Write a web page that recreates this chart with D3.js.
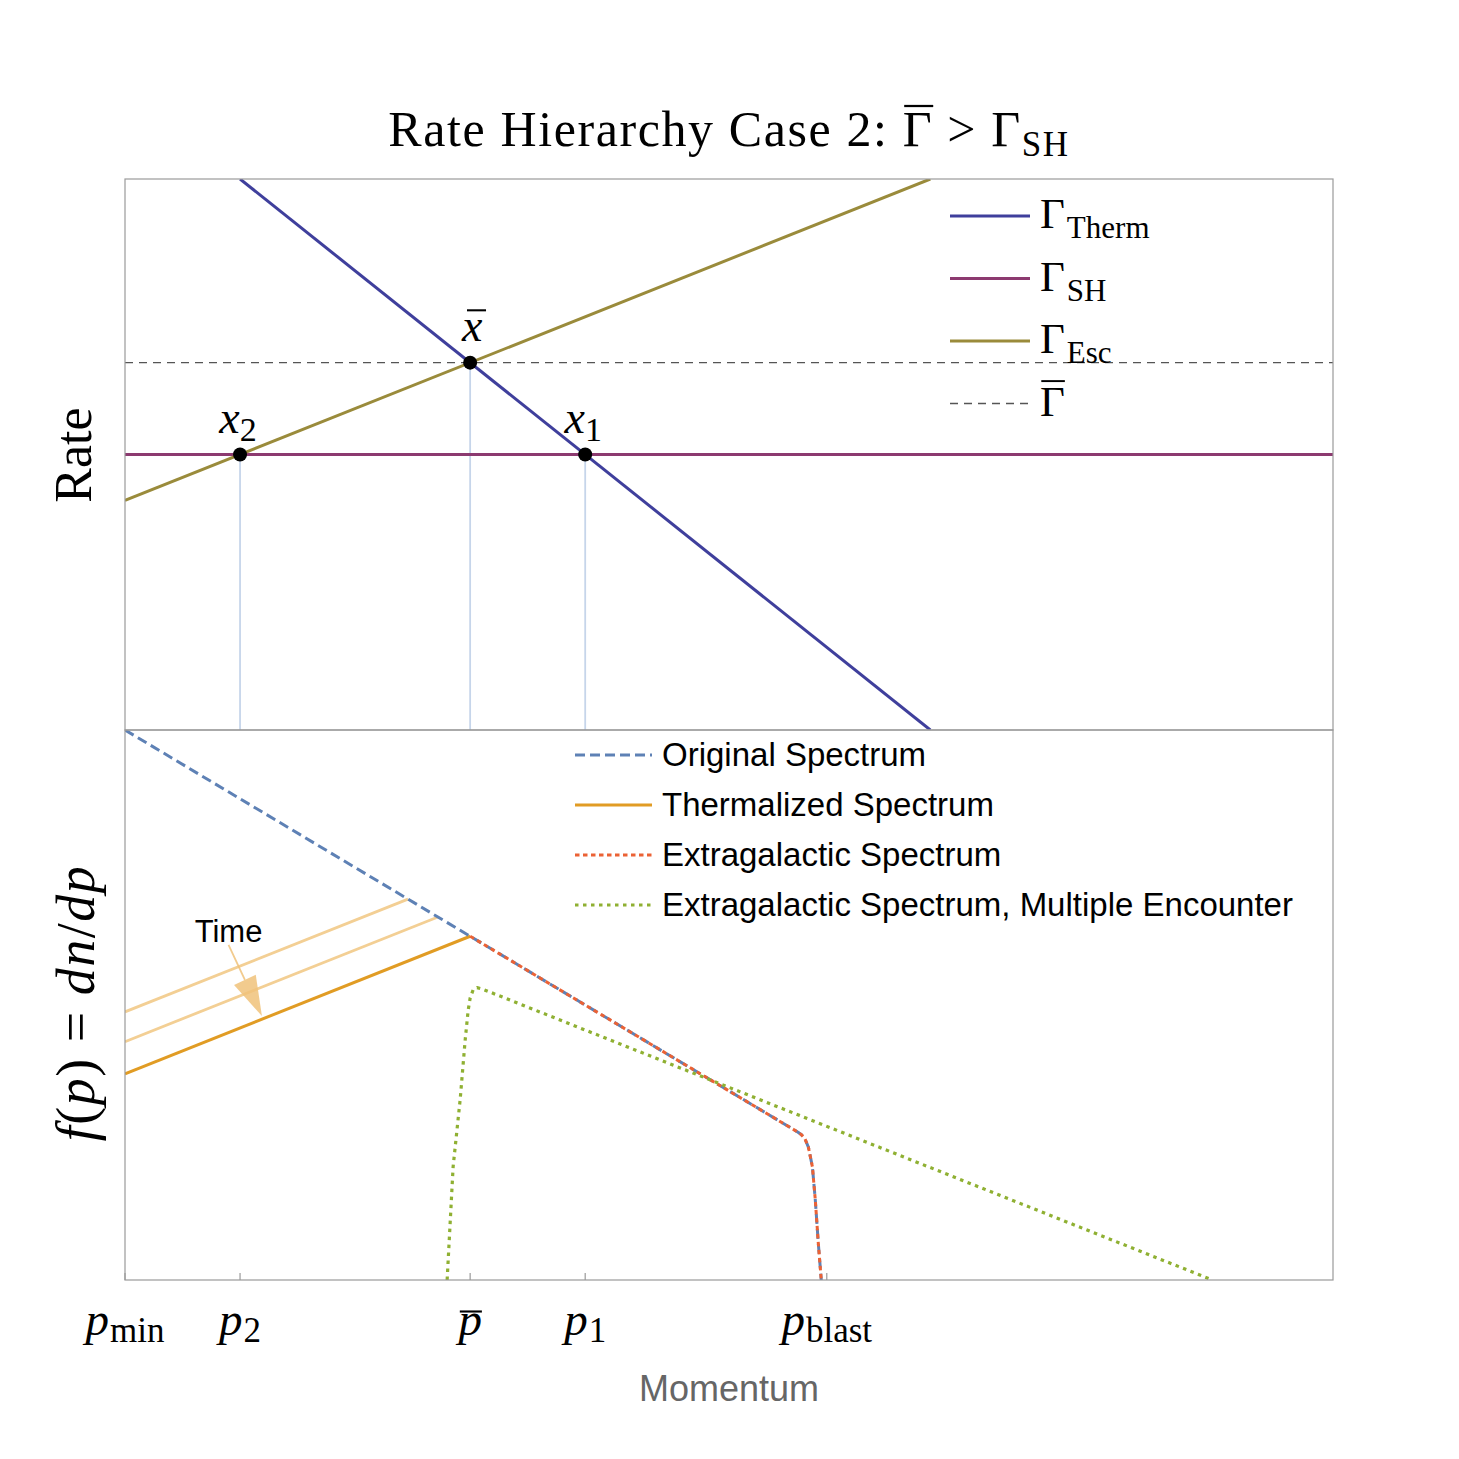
<!DOCTYPE html>
<html>
<head>
<meta charset="utf-8">
<title>Rate Hierarchy Case 2</title>
<script src="https://d3js.org/d3.v7.min.js"></script>
<style>
body { margin: 0; background: #fff; }
.serif { font-family: "Liberation Serif", "DejaVu Serif", serif; }
.sans { font-family: "Liberation Sans", Arial, sans-serif; }
</style>
</head>
<body>
<svg id="chart" width="1459" height="1459"></svg>
<script>
// ---- momentum axis (arbitrary units) ----
const tickPos   = [0, 1, 3, 4, 6.1];
const tickSubs  = ["min", "2", "", "1", "blast"];
const tickBars  = [false, false, true, false, false];

// ---- top panel: rates ----
const thermX = [1, 7],     thermY = [12, 0];
const shX    = [0, 10.5],  shY    = [6, 6];
const escX   = [0, 7],     escY   = [5, 12];
const gbarX  = [0, 10.5],  gbarY  = [8, 8];
const crossX = [1, 3, 4],  crossY = [6, 8, 6];
const crossSubs = ["2", "", "1"];
const crossBars = [false, true, false];

// ---- bottom panel: spectra ----
const origX = [0, 3, 5.85, 5.88, 5.91, 5.94, 5.975, 6.0, 6.026, 6.052];
const origY = [12, 7.5, 3.225, 3.17, 3.08, 2.9, 2.47, 1.75, 0.81, 0];
const thermSpecX = [0, 3],    thermSpecY = [4.5, 7.5];
const early1X = [0, 2.46],    early1Y = [5.85, 8.31];
const early2X = [0, 2.72],    early2Y = [5.2, 7.92];
const multiX = [2.8, 2.852, 2.913, 2.957, 2.983, 3.0, 3.026, 3.06, 3.104, 9.452];
const multiY = [0, 2.47, 3.93, 5.24, 5.89, 6.15, 6.33, 6.38, 6.35, 0];

const topLegend = [
  {sub: "Therm", color: "#3f3f9c", dash: null},
  {sub: "SH",    color: "#8c3a70", dash: null},
  {sub: "Esc",   color: "#9a8b3b", dash: null},
  {sub: "",      color: "#555",    dash: "8,6", bar: true}
];
const botLegend = [
  {label: "Original Spectrum", color: "#5e81b5", dash: "10,5"},
  {label: "Thermalized Spectrum", color: "#e19c24", dash: null},
  {label: "Extragalactic Spectrum", color: "#eb6235", dash: "4.5,3.5"},
  {label: "Extragalactic Spectrum, Multiple Encounter", color: "#8fb032", dash: "3.5,4.5"}
];

const svg = d3.select("#chart");
const left = 125, right = 1333, topY = 179, midY = 730, botY = 1280;

const x = d3.scaleLinear().domain([0, 10.5]).range([left, right]);
const yTop = d3.scaleLinear().domain([0, 12]).range([midY, topY]);
const yBot = d3.scaleLinear().domain([0, 12]).range([botY, midY]);

function zipPts(xs, ys) { return xs.map((v, i) => [v, ys[i]]); }

// draws an overline above character i of a text node
function overline(textSel, i, fontSize, lift, italic) {
  const node = textSel.node();
  const ext = node.getExtentOfChar(i);
  const base = +textSel.attr("y");
  const slant = italic ? fontSize * 0.08 : 0;
  svg.append("line")
    .attr("x1", ext.x + fontSize * 0.03 + slant)
    .attr("x2", ext.x + ext.width + slant)
    .attr("y1", base - lift * fontSize)
    .attr("y2", base - lift * fontSize)
    .attr("stroke", "#000")
    .attr("stroke-width", fontSize * 0.045);
}

// clip paths
const defs = svg.append("defs");
defs.append("clipPath").attr("id", "clipTop").append("rect")
  .attr("x", left).attr("y", topY).attr("width", right - left).attr("height", midY - topY);
defs.append("clipPath").attr("id", "clipBot").append("rect")
  .attr("x", left).attr("y", midY).attr("width", right - left).attr("height", botY - midY);

// ==================== Top panel ====================
const gTop = svg.append("g").attr("clip-path", "url(#clipTop)");
const lineTop = d3.line().x(d => x(d[0])).y(d => yTop(d[1]));

// drop lines from the crossings
gTop.selectAll(".drop")
  .data(zipPts(crossX, crossY))
  .enter().append("line")
  .attr("x1", d => x(d[0])).attr("x2", d => x(d[0]))
  .attr("y1", d => yTop(d[1])).attr("y2", yTop(0))
  .attr("stroke", "#c6d5ea").attr("stroke-width", 1.8);

gTop.append("path").attr("d", lineTop(zipPts(gbarX, gbarY)))
  .attr("fill", "none").attr("stroke", "#555").attr("stroke-width", 1.3).attr("stroke-dasharray", "8,6");
gTop.append("path").attr("d", lineTop(zipPts(shX, shY)))
  .attr("fill", "none").attr("stroke", topLegend[1].color).attr("stroke-width", 3);
gTop.append("path").attr("d", lineTop(zipPts(escX, escY)))
  .attr("fill", "none").attr("stroke", topLegend[2].color).attr("stroke-width", 3);
gTop.append("path").attr("d", lineTop(zipPts(thermX, thermY)))
  .attr("fill", "none").attr("stroke", topLegend[0].color).attr("stroke-width", 3);

svg.selectAll(".cross")
  .data(zipPts(crossX, crossY))
  .enter().append("circle")
  .attr("cx", d => x(d[0])).attr("cy", d => yTop(d[1]))
  .attr("r", 7).attr("fill", "#000");

// crossing labels
crossX.forEach((cx, i) => {
  const fs = 46;
  const t = svg.append("text").attr("class", "serif")
    .attr("x", x(cx) + (crossSubs[i] ? -2 : 2))
    .attr("y", yTop(crossY[i]) - 22)
    .attr("text-anchor", "middle")
    .attr("font-size", fs);
  t.append("tspan").attr("font-style", "italic").text("x");
  if (crossSubs[i]) t.append("tspan").attr("font-size", 34).attr("dy", 8).text(crossSubs[i]);
  if (crossBars[i]) overline(t, 0, fs, 0.66, true);
});

// top legend
topLegend.forEach((d, i) => {
  const yy = 216 + i * 62.5;
  svg.append("line").attr("x1", 950).attr("x2", 1030).attr("y1", yy).attr("y2", yy)
    .attr("stroke", d.color).attr("stroke-width", d.dash ? 1.3 : 3)
    .attr("stroke-dasharray", d.dash);
  const t = svg.append("text").attr("class", "serif")
    .attr("x", 1040).attr("y", yy + 12).attr("font-size", 43);
  t.append("tspan").text("\u0393");
  if (d.sub) t.append("tspan").attr("font-size", 31).attr("dy", 10).attr("dx", 2).text(d.sub);
  if (d.bar) overline(t, 0, 43, 0.8, false);
});

// ==================== Bottom panel ====================
const gBot = svg.append("g").attr("clip-path", "url(#clipBot)");
const lineBot = d3.line().x(d => x(d[0])).y(d => yBot(d[1]));

gBot.append("path").attr("d", lineBot(zipPts(early1X, early1Y)))
  .attr("fill", "none").attr("stroke", "#f3cf94").attr("stroke-width", 2.8);
gBot.append("path").attr("d", lineBot(zipPts(early2X, early2Y)))
  .attr("fill", "none").attr("stroke", "#f3cf94").attr("stroke-width", 2.8);
gBot.append("path").attr("d", lineBot(zipPts(thermSpecX, thermSpecY)))
  .attr("fill", "none").attr("stroke", botLegend[1].color).attr("stroke-width", 3);
gBot.append("path").attr("d", lineBot(zipPts(origX, origY)))
  .attr("fill", "none").attr("stroke", botLegend[0].color).attr("stroke-width", 3)
  .attr("stroke-linejoin", "round")
  .attr("stroke-dasharray", botLegend[0].dash);
gBot.append("path").attr("d", lineBot(zipPts(origX.slice(1), origY.slice(1))))
  .attr("fill", "none").attr("stroke", botLegend[2].color).attr("stroke-width", 3)
  .attr("stroke-linejoin", "round")
  .attr("stroke-dasharray", botLegend[2].dash);
gBot.append("path").attr("d", lineBot(zipPts(multiX, multiY)))
  .attr("fill", "none").attr("stroke", botLegend[3].color).attr("stroke-width", 3.2)
  .attr("stroke-linejoin", "round")
  .attr("stroke-dasharray", botLegend[3].dash);

// time arrow
const ax0 = x(0.9), ay0 = yBot(7.31), ax1 = x(1.19), ay1 = yBot(5.76);
const ang = Math.atan2(ay1 - ay0, ax1 - ax0);
const hl = 40, hw = 12;
const bx = ax1 - hl * Math.cos(ang), by = ay1 - hl * Math.sin(ang);
svg.append("line").attr("x1", ax0).attr("y1", ay0).attr("x2", bx).attr("y2", by)
  .attr("stroke", "#f0c27a").attr("stroke-width", 1.8).attr("opacity", 0.85);
svg.append("polygon")
  .attr("points", [[ax1, ay1],
    [bx + hw * Math.sin(ang), by - hw * Math.cos(ang)],
    [bx - hw * Math.sin(ang), by + hw * Math.cos(ang)]].map(p => p.join(",")).join(" "))
  .attr("fill", "#f0c27a").attr("opacity", 0.85);
svg.append("text").attr("class", "sans")
  .attr("x", x(0.9)).attr("y", yBot(7.31) - 3).attr("text-anchor", "middle")
  .attr("font-size", 31).text("Time");

// bottom legend
botLegend.forEach((d, i) => {
  const yy = 755 + i * 50;
  svg.append("line").attr("x1", 575).attr("x2", 652).attr("y1", yy).attr("y2", yy)
    .attr("stroke", d.color).attr("stroke-width", 3).attr("stroke-dasharray", d.dash);
  svg.append("text").attr("class", "sans").attr("x", 662).attr("y", yy + 11)
    .attr("font-size", 33).text(d.label);
});

// ==================== Frames, ticks, labels ====================
svg.append("rect").attr("x", left).attr("y", topY).attr("width", right - left).attr("height", midY - topY)
  .attr("fill", "none").attr("stroke", "#9a9a9a").attr("stroke-width", 1.2);
svg.append("rect").attr("x", left).attr("y", midY).attr("width", right - left).attr("height", botY - midY)
  .attr("fill", "none").attr("stroke", "#9a9a9a").attr("stroke-width", 1.2);

svg.selectAll(".tick")
  .data(tickPos)
  .enter().append("line")
  .attr("x1", d => x(d)).attr("x2", d => x(d))
  .attr("y1", botY).attr("y2", botY - 7)
  .attr("stroke", "#9a9a9a").attr("stroke-width", 1.2);

tickPos.forEach((p, i) => {
  const fs = 47;
  const t = svg.append("text").attr("class", "serif")
    .attr("x", x(p)).attr("y", 1335).attr("text-anchor", "middle")
    .attr("font-size", fs);
  t.append("tspan").attr("font-style", "italic").text("p");
  if (tickSubs[i]) t.append("tspan").attr("font-size", 35).attr("dy", 7).attr("dx", 1).text(tickSubs[i]);
  if (tickBars[i]) overline(t, 0, fs, 0.5, false);
});

svg.append("text").attr("class", "sans")
  .attr("x", 729).attr("y", 1401).attr("text-anchor", "middle")
  .attr("font-size", 36).attr("fill", "#666").text("Momentum");

svg.append("text").attr("class", "serif")
  .attr("transform", "translate(91,455) rotate(-90)")
  .attr("text-anchor", "middle").attr("font-size", 52).text("Rate");

const fl = svg.append("text").attr("class", "serif")
  .attr("transform", "translate(94,1003) rotate(-90)")
  .attr("text-anchor", "middle").attr("font-size", 54).attr("letter-spacing", 1.5);
fl.append("tspan").attr("font-style", "italic").text("f");
fl.append("tspan").text("(");
fl.append("tspan").attr("font-style", "italic").text("p");
fl.append("tspan").text(") = ");
fl.append("tspan").attr("font-style", "italic").text("dn");
fl.append("tspan").text("/");
fl.append("tspan").attr("font-style", "italic").text("dp");

// title
const title = svg.append("text").attr("class", "serif")
  .attr("x", 729).attr("y", 146).attr("text-anchor", "middle").attr("font-size", 50)
  .attr("letter-spacing", 1.6);
title.append("tspan").text("Rate Hierarchy Case 2: \u0393 > \u0393");
title.append("tspan").attr("font-size", 35).attr("dy", 10).text("SH");
overline(title, 23, 50, 0.8, false);
</script>
</body>
</html>
